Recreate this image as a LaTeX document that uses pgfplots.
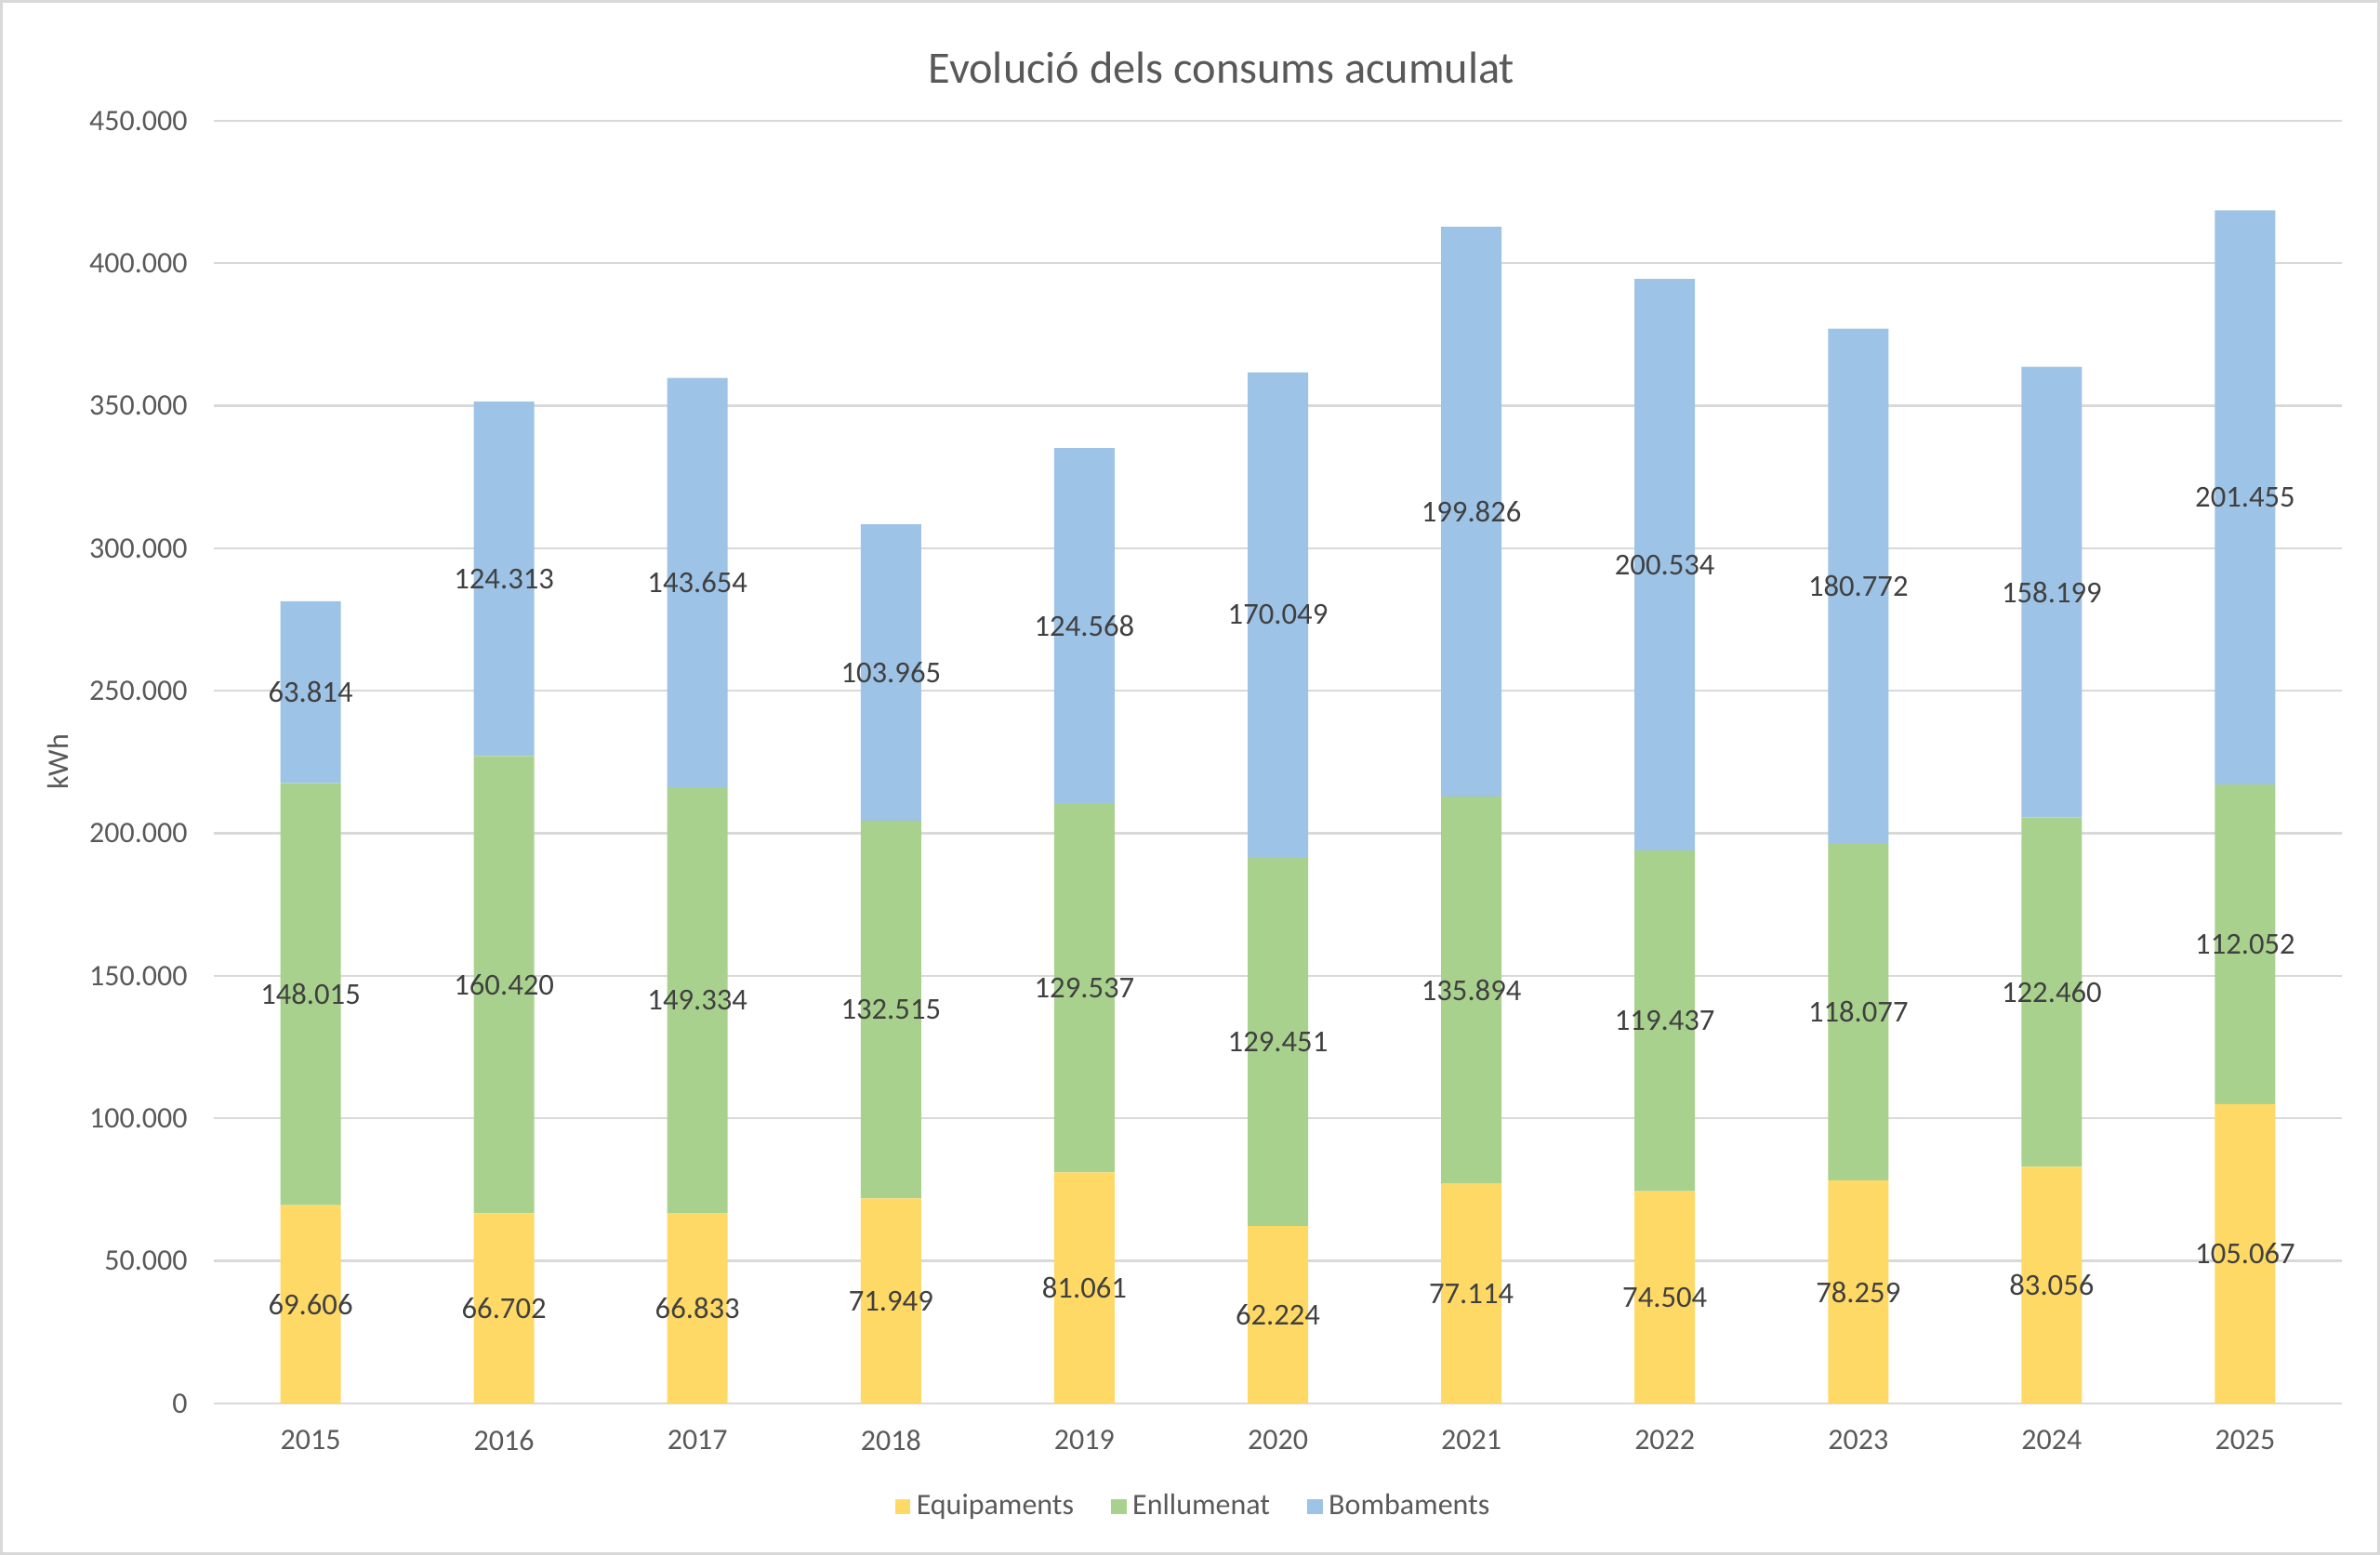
\documentclass[border=0pt]{standalone}
\usepackage{pgfplots}
\usepackage{pgfplotstable}
\pgfplotsset{compat=1.18}
\usepackage{fontspec}
\setmainfont{Carlito}
\definecolor{cyellow}{HTML}{FFD966}
\definecolor{cgreen}{HTML}{A9D18E}
\definecolor{cblue}{HTML}{9DC3E6}
\definecolor{tgray}{HTML}{595959}
\definecolor{lgray}{HTML}{404040}
\definecolor{ggray}{HTML}{D9D9D9}
\pgfplotstableread{
idx year equip enll bomb
0 2015 69606 148015 63814
1 2016 66702 160420 124313
2 2017 66833 149334 143654
3 2018 71949 132515 103965
4 2019 81061 129537 124568
5 2020 62224 129451 170049
6 2021 77114 135894 199826
7 2022 74504 119437 200534
8 2023 78259 118077 180772
9 2024 83056 122460 158199
10 2025 105067 112052 201455
}\data
\begin{document}
\begin{tikzpicture}
\useasboundingbox (0,0) rectangle (768pt,501.9pt);
\draw[ggray,line width=0.8pt] (0.4pt,0.4pt) rectangle (767.5pt,501.5pt);
\node[text=tgray,font=\fontsize{14.5}{17}\selectfont] at (394.2pt,479.9pt) {Evolució dels consums acumulat};
\begin{axis}[
  at={(69pt,48.9pt)}, anchor=south west,
  width=686.7pt, height=414pt, scale only axis,
  ybar stacked, bar width=19.5pt,
  xmin=-0.5, xmax=10.5, ymin=0, ymax=450000,
  xtick={0,...,10},
  xticklabels={2015,2016,2017,2018,2019,2020,2021,2022,2023,2024,2025},
  ytick={0,50000,...,450000},
  scaled y ticks=false,
  yticklabel style={/pgf/number format/fixed, /pgf/number format/precision=0, /pgf/number format/1000 sep={.}},
  /pgf/number format/assume math mode=true,
  axis line style={draw=none},
  major tick length=0pt,
  ymajorgrids, grid style={ggray, line width=0.7pt},
  tick label style={text=tgray, font=\fontsize{9.6}{11}\selectfont},
  xticklabel style={yshift=-5pt},
  yticklabel style={xshift=-5pt},
  ylabel={kWh}, ylabel style={text=tgray, font=\fontsize{9.6}{11}\selectfont},
  legend columns=3,
  legend style={at={(0.4613,-0.0804)}, anchor=center, draw=none, fill=none,
    font=\fontsize{9.6}{11}\selectfont, text=tgray,
    /tikz/every even column/.append style={column sep=10pt}},
  legend image code/.code={\fill[#1] (0pt,-2.45pt) rectangle (4.9pt,2.45pt);},
  nodes near coords={\pgfmathprintnumber[fixed,precision=0,1000 sep={.}]{\pgfplotspointmeta}},
  nodes near coords style={text=lgray, font=\fontsize{9.8}{11}\selectfont, anchor=center},
  point meta=explicit,
]
\addplot[fill=cyellow, draw=none] table[x=idx, y=equip, meta=equip]{\data};
\addlegendentry{Equipaments}
\addplot[fill=cgreen, draw=none] table[x=idx, y=enll, meta=enll]{\data};
\addlegendentry{Enllumenat}
\addplot[fill=cblue, draw=none] table[x=idx, y=bomb, meta=bomb]{\data};
\addlegendentry{Bombaments}
\end{axis}
\end{tikzpicture}
\end{document}
